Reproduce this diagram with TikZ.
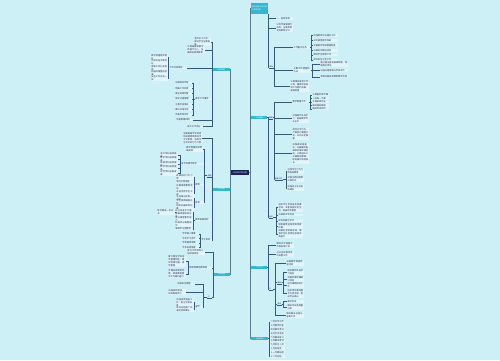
\documentclass[tikz,border=0pt]{standalone}
\usepackage{fontspec}
\newfontfamily\cjk{Noto Sans CJK SC}
\XeTeXlinebreaklocale "zh"
\XeTeXlinebreakskip=0pt plus 0.5pt
\usetikzlibrary{positioning}
\definecolor{bgc}{HTML}{CDEFF6}
\definecolor{ink}{HTML}{17294A}
\definecolor{leaffill}{HTML}{E2F5FA}
\definecolor{linkc}{HTML}{34597A}
\definecolor{spinec}{HTML}{5A7A92}
\definecolor{topicc}{HTML}{34B8CD}
\definecolor{rootc}{HTML}{1C2260}

\tikzset{
  leaf/.style={font=\cjk\fontsize{2.2}{3}\selectfont, text=ink, fill=leaffill, inner sep=0.35pt, align=left, text width=#1},
  leaf/.default=16pt,
  lbl/.style={font=\cjk\fontsize{1.8}{2.2}\selectfont, text=ink, inner sep=0.3pt,
    append after command={(\tikzlastnode.south west) edge[link] (\tikzlastnode.south east)}},
  topic/.style={fill=topicc, text=white, font=\cjk\fontsize{1.8}{2.4}\selectfont, inner sep=0.3pt, minimum width=17pt, minimum height=3pt},
  rootbox/.style={fill=rootc, text=white, font=\cjk\fontsize{2}{2.4}\selectfont, inner sep=0.3pt, minimum width=18pt, minimum height=5pt},
  link/.style={draw=linkc, line width=0.4pt},
  spine/.style={draw=spinec, line width=0.8pt},
}

\begin{document}
\begin{tikzpicture}[x=1pt,y=-1pt]
\fill[bgc] (0,0) rectangle (500,360);
\useasboundingbox (0,0) rectangle (500,360);

% root and main topics
\node[rootbox] (root) at (240,172.5) {2023年工作计划};
\node[topic, text width=16pt, minimum height=11pt, anchor=west, align=left, inner sep=0.5pt] (r1) at (251,8.5) {学校年度工作计划与安排方案};
\node[topic, minimum width=16pt, anchor=west] (r2) at (251,117.5) {工作措施};
\node[topic, minimum width=16pt, anchor=west] (r3) at (251,267) {工作安排};
\node[topic, anchor=west] (r4) at (251,338.5) {月份安排};
\node[topic, anchor=east] (l1) at (230,69.5) {指导思想};
\node[topic, anchor=east] (l2) at (230,189) {工作目标};
\node[topic, minimum width=16pt, anchor=east] (l3) at (230,274) {保障措施};

\foreach \t in {r1,r2,r3,r4}
  \draw[spine] (root.east) -- ++(1,0) |- (\t.west);
\foreach \t in {l1,l2,l3}
  \draw[spine] (root.west) -- ++(-0.5,0) |- (\t.east);

% right: r1
\node[leaf, anchor=west] (a1) at (276,18.5) {一、指导思想};
\node[leaf, anchor=west] (a2) at (276,28) {以科学发展观为指导，全面贯彻党的教育方针};
\node[lbl, anchor=west] (a3) at (269,67) {目标};
\foreach \c in {a1,a2,a3}
  \draw[link] (r1.south east) |- (\c.west);
\node[leaf, anchor=west] (a31) at (293,47.5) {工作重点任务};
\node[leaf=17pt, anchor=west] (a32) at (293,70.5) {主要工作措施和方法};
\node[leaf=18pt, anchor=west] (a33) at (290,86.5) {认真落实各项工作计划，确保学校各项工作顺利开展，提高质量};
\foreach \c in {a31,a32,a33}
  \draw[link] (a3.east) -- ++(1,0) |- (\c.west);
\foreach \y/\t [count=\i] in {35.5/加强教师队伍建设工作, 40.4/深化课堂教学改革, 45.3/完善教学常规管理制度, 50.2/开展校本教研活动, 55.1/做好学生德育工作, 60/抓好安全卫生工作}{
  \node[leaf=24pt, anchor=west] (a31-\i) at (313,\y) {\t};
  \draw[link] (a31.east) -- ++(1.5,0) |- (a31-\i.west);
}
\foreach \y/\t [count=\i] in {64/建立健全各项规章制度，明确岗位责任, 70.5/加强过程管理与考核评价, 77/积极开展各类教育教学活动}{
  \node[leaf=27pt, anchor=west] (a32-\i) at (320,\y) {\t};
  \draw[link] (a32.east) -- ++(1.5,0) |- (a32-\i.west);
}

% right: r2
\node[lbl, anchor=west] (b1) at (268.5,117.5) {措施};
\node[lbl, anchor=west] (b2) at (268.5,217) {活动};
\foreach \c in {b1,b2}
  \draw[link] (r2.east) -- ++(0.8,0) |- (\c.west);
\node[leaf, anchor=west] (b11) at (292,102) {教学管理工作};
\node[leaf, anchor=west] (b12) at (292,118.5) {加强教师业务学习，提高教师专业水平};
\node[leaf, anchor=west] (b13) at (292,134) {规范办学行为，严格执行课程计划，开齐开足课程};
\node[leaf, anchor=west] (b14) at (292,153.5) {加强教研组建设，开展集体备课和听课评课活动，认真组织公开课和观摩课，促进教师共同成长};
\node[lbl, anchor=west] (b15) at (274.5,179) {德育工作};
\foreach \c in {b11,b12,b13,b14,b15}
  \draw[link] (b1.east) -- ++(1.5,0) |- (\c.west);
\foreach \y/\t [count=\i] in {95/认真备好每节课, 98.5/上好每一节课, 102/认真批改作业, 105.5/做好课后辅导, 109/搞好考试评价}{
  \node[leaf, anchor=west] (b11-\i) at (312,\y) {\t};
  \draw[link] (b11.east) -- ++(1.5,0) |- (b11-\i.west);
}
\foreach \y/\t [count=\i] in {171/加强学生行为习惯养成教育, 179.5/开展主题班会和升旗仪式, 188/加强班主任队伍的建设}{
  \node[leaf, anchor=west] (b15-\i) at (287,\y) {\t};
  \draw[link] (b15.east) -- ++(3,0) |- (b15-\i.west);
}
\foreach \y/\t [count=\i] in {207.5/组织学生参加各类竞赛活动，丰富校园文化生活，提高综合素质, 215/开展读书节活动, 221/举办校园艺术节, 226.5/组织春季运动会和体育比赛, 234/开展社会实践活动，增强学生社会责任感和实践能力}{
  \node[leaf=24pt, anchor=west] (b2-\i) at (278,\y) {\t};
  \draw[link] (b2.east) -- ++(3,0) |- (b2-\i.west);
}

% right: r3
\node[leaf=17pt, anchor=west] (c1) at (276,245.5) {做好开学准备工作和各项计划};
\node[leaf=17pt, anchor=west] (c2) at (276,254) {召开全体教师会议布置工作};
\node[lbl, anchor=west] (c3) at (268.5,289) {三、};
\foreach \c in {c1,c2,c3}
  \draw[link] (r3.east) -- ++(0.5,0) |- (\c.west);
\node[leaf=17pt, anchor=west] (c31) at (286,263.5) {开展教学常规检查活动};
\node[lbl, anchor=west] (c32) at (277,282.5) {教研};
\node[lbl, anchor=west] (c33) at (277,304) {考试};
\node[leaf=17pt, anchor=west] (c34) at (286,315) {做好期末总结与表彰工作};
\foreach \c in {c31,c32,c33,c34}
  \draw[link] (c3.east) -- ++(2,0) |- (\c.west);
\foreach \y/\t [count=\i] in {272.5/组织教师外出学习培训, 279.5/开展听课评课研讨活动, 285.5/进行课题研究工作, 293.5/组织青年教师教学比武活动，促进专业成长}{
  \node[leaf, anchor=west] (c32-\i) at (287,\y) {\t};
  \draw[link] (c32.east) -- ++(1.5,0) |- (c32-\i.west);
}
\foreach \y/\t [count=\i] in {301.5/期中考试, 307/期末考试及质量分析}{
  \node[leaf, anchor=west] (c33-\i) at (287,\y) {\t};
  \draw[link] (c33.east) -- ++(1.5,0) |- (c33-\i.west);
}

% right: r4
\foreach \y/\t [count=\i] in {322/二月开学工作, 325.8/三月教学检查, 329.6/四月期中考试, 333.4/五月艺术活动, 337.2/六月期末复习, 341/七月期末考试, 344.8/九月新生入学, 348.6/十月运动会, 352.4/十一月教研周, 356.2/十二月总结}{
  \node[leaf=14pt, anchor=west] (r4-\i) at (270,\y) {\t};
  \draw[link] (r4.east) -- ++(1,0) |- (r4-\i.west);
}

% left: l1
\node[leaf, anchor=east] (d1) at (211,42) {坚持以人为本，促进学生全面发展};
\node[leaf=17pt, anchor=east] (d2) at (205,50) {以提高教育教学质量为中心，全面推进素质教育};
\node[leaf=17pt, anchor=east] (d3) at (187,68) {工作总体目标};
\node[leaf, anchor=east] (d4) at (212,99) {具体工作要求};
\node[leaf, anchor=east] (d5) at (193,120) {完善管理机制};
\node[leaf=15pt, anchor=east] (d6) at (203,126.5) {提升办学品位};
\foreach \c in {d1,d2,d3,d4,d5,d6}
  \draw[link] (l1.west) -- ++(-0.5,0) |- (\c.east);
\foreach \y/\t [count=\i] in {57/教学质量稳步提升, 62.5/师资队伍不断优化, 68/德育工作扎实有效, 73/校园环境整洁优美, 78/安全工作万无一失}{
  \node[leaf, anchor=east] (d3-\i) at (168,\y) {\t};
  \draw[link] (d3.west) -- ++(-0.5,0) |- (d3-\i.east);
}
\foreach \y/\t [count=\i] in {83/加强组织领导, 88.3/明确工作职责, 93.6/健全规章制度, 99/强化过程管理, 104.3/注重检查落实, 109.6/做好总结反思, 115/完善考核评价}{
  \node[leaf, anchor=east] (d4-\i) at (192,\y) {\t};
  \draw[link] (d4.west) -- ++(-1.5,0) |- (d4-\i.east);
}

% left: l2
\node[leaf=18pt, anchor=east] (e1) at (202,138.5) {全面提高学生的思想道德素质和科学文化素质，培养学生良好的行为习惯};
\node[lbl, anchor=east] (e2) at (212,175.5) {措施};
\node[leaf, anchor=east] (e3) at (212,220) {教师发展目标};
\node[leaf=10pt, anchor=east] (e4) at (212,240) {学生目标};
\foreach \c in {e1,e2,e3,e4}
  \draw[link] (l2.west) -- ++(-0.5,0) |- (\c.east);
\node[leaf, anchor=east] (e21) at (203,149.5) {教学质量目标明确具体};
\node[leaf=22pt, anchor=east] (e22) at (204,164) {各学科教学目标};
\node[leaf=8pt, anchor=east] (e23) at (204,185) {德育};
\node[leaf=8pt, anchor=east] (e24) at (204,202.5) {体育};
\foreach \c in {e21,e22,e23,e24}
  \draw[link] (e2.west) -- ++(-3,0) |- (\c.east);
\foreach \y/\t [count=\i] in {155/语文学科成绩提高, 159.5/数学学科成绩提高, 164/英语学科成绩提高, 168.5/科学学科成绩提高, 173/综合学科全面发展}{
  \node[leaf=17pt, anchor=east] (e22-\i) at (178,\y) {\t};
  \draw[link] (e22.west) -- ++(-0.5,0) |- (e22-\i.east);
}
\foreach \y/\t [count=\i] in {177/养成良好行为习惯, 182/争创文明班级, 187.5/开展感恩教育活动, 193/评选优秀学生干部}{
  \node[leaf=17pt, anchor=east] (e23-\i) at (194,\y) {\t};
  \draw[link] (e23.west) -- ++(-1,0) |- (e23-\i.east);
}
\foreach \y/\t [count=\i] in {198/坚持阳光体育一小时, 202.5/学生体质健康达标, 207/组织开展体育比赛}{
  \node[leaf=17pt, anchor=east] (e24-\i) at (194,\y) {\t};
  \draw[link] (e24.west) -- ++(-1,0) |- (e24-\i.east);
}
\foreach \y/\t [count=\i] in {212/树立终身学习理念, 215.5/提高师德修养水平, 219.5/提升课堂教学能力, 224/积极参与课题研究, 229/争做学习型教师}{
  \node[leaf=17pt, anchor=east] (e3-\i) at (193,\y) {\t};
  \draw[link] (e3.west) -- ++(-1.5,0) |- (e3-\i.east);
}
\node[leaf=17pt, anchor=east] (e3-1-1) at (175,212) {每学期读一本好书};
\draw[link] (e3-1.west) -- (e3-1-1.east);
\foreach \y/\t [count=\i] in {234/学会做人做事, 238.5/学会学习合作, 243/学会健体审美, 247.5/学会自我管理}{
  \node[leaf, anchor=east] (e4-\i) at (199,\y) {\t};
  \draw[link] (e4.west) -- ++(-1,0) |- (e4-\i.east);
}

% left: l3
\node[leaf=17pt, anchor=east] (f1) at (205,252.5) {成立工作领导小组加强领导};
\node[leaf=22pt, anchor=east] (f2) at (212,268) {制度保障经费保障};
\node[lbl, anchor=east] (f3) at (212,297) {三、};
\foreach \c in {f1,f2,f3}
  \draw[link] (l3.west) -- ++(-0.5,0) |- (\c.east);
\foreach \y/\t [count=\i] in {261.5/建立健全学校各项管理制度，做到有章可循，规范管理, 274/合理安排使用经费，保障教育教学工作顺利进行}{
  \node[leaf=17pt, anchor=east] (f2-\i) at (186,\y) {\t};
  \draw[link] (f2.west) -- ++(-0.5,0) |- (f2-\i.east);
}
\node[leaf=17pt, anchor=east] (f31) at (195,284) {加强安全管理};
\node[leaf=17pt, anchor=east] (f32) at (186,292) {加强家校联系，形成教育合力};
\node[leaf=7pt, anchor=east] (f33) at (203,307) {宣传};
\foreach \c in {f31,f32,f33}
  \draw[link] (f3.west) -- ++(-4,0) |- (\c.east);
\foreach \y/\t [count=\i] in {302.5/加强宣传报道工作，树立学校形象, 309.5/及时总结推广先进经验和做法}{
  \node[leaf=17pt, anchor=east] (f33-\i) at (194,\y) {\t};
  \draw[link] (f33.west) -- ++(-1,0) |- (f33-\i.east);
}
\end{tikzpicture}
\end{document}
